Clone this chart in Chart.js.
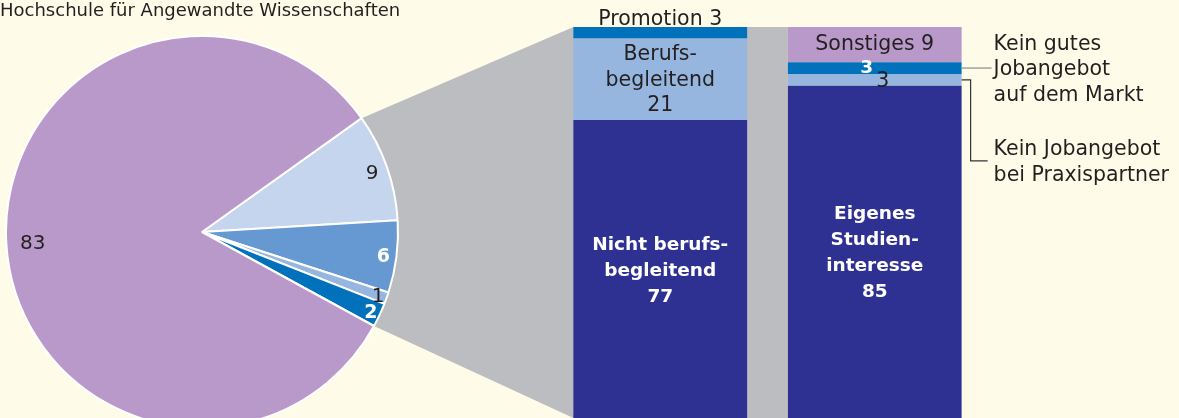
<!DOCTYPE html>
<html>
<head>
<meta charset="utf-8">
<script src="https://cdn.jsdelivr.net/npm/chart.js@4.4.1/dist/chart.umd.min.js"></script>
<style>
  body { margin: 0; background: #fefce8; overflow: hidden; }
  #wrap { position: relative; width: 1179px; height: 418px; }
  #wrap canvas { position: absolute; left: 0; top: 0; }
</style>
</head>
<body>
<div id="wrap">
  <canvas id="barChart" width="1179" height="418"></canvas>
  <canvas id="pieChart" width="1179" height="418"></canvas>
</div>
<script>
// Pie: Hochschule für Angewandte Wissenschaften
const pieTitle = 'Hochschule für Angewandte Wissenschaften';
const pieLabels = ['Segment 9', 'Segment 6', 'Segment 1', 'Segment 2', 'Segment 83'];
const pieValues = [9, 6, 1, 2, 83];
const pieColors = ['#c5d5ed', '#6699d1', '#96b6e0', '#0071ba', '#b999c9'];

// Bars: two 100% stacks
const barCategories = ['Studienart', 'Gründe'];
const studyLabels = ['Nicht berufsbegleitend', 'Berufsbegleitend', 'Promotion'];
const studyValues = [77, 21, 3];
const studyColors = ['#2e3192', '#96b6e0', '#0071ba'];
const studyText = [['Nicht berufs-', 'begleitend'], ['Berufs-', 'begleitend'], ['Promotion']];

const reasonLabels = ['Eigenes Studieninteresse', 'Kein Jobangebot bei Praxispartner', 'Kein gutes Jobangebot auf dem Markt', 'Sonstiges'];
const reasonValues = [85, 3, 3, 9];
const reasonColors = ['#2e3192', '#96b6e0', '#0071ba', '#b999c9'];
const reasonText = [['Eigenes', 'Studien-', 'interesse'], ['Kein Jobangebot', 'bei Praxispartner'], ['Kein gutes', 'Jobangebot', 'auf dem Markt'], ['Sonstiges']];

const DARK = '#231f20';
const FAMILY = '"DejaVu Sans", sans-serif';

// label styling (placement only)
const pieLabelRadius = [0.92, 0.933, 0.954, 0.952, 0.865];
const pieLabelBold = [false, true, false, true, false];
const studyStyle = [
    { mode: 'stack', bold: true, color: '#fff' },
    { mode: 'stack', bold: false, color: DARK, dy: -1 },
    { mode: 'above', bold: false, color: DARK }
];
const reasonStyle = [
    { mode: 'stack', bold: true, color: '#fff' },
    { mode: 'side', bold: false, color: DARK, dx: 8, line: '#333333', drop: 81 },
    { mode: 'side', bold: true, color: '#fff', dx: -8, dy: -2, line: '#8a8a8a', drop: 0 },
    { mode: 'inline', bold: false, color: DARK, dy: -2 }
];

function fontOf(bold) {
    return bold ? { str: 'bold 18.5px ' + FAMILY, size: 18.5, lh: 26 } : { str: '20.5px ' + FAMILY, size: 20.5, lh: 25.5 };
}

// draw lines centred vertically on cy
function drawLines(ctx, lines, x, cy, f, align) {
    ctx.font = f.str;
    ctx.textAlign = align || 'center';
    ctx.textBaseline = 'alphabetic';
    const n = lines.length;
    lines.forEach((t, i) => {
        ctx.fillText(t, x, cy + (i - (n - 1) / 2) * f.lh + f.size * 0.36);
    });
}

// Pie labels
const pieLabelPlugin = {
    id: 'pieLabels',
    afterDatasetsDraw(chart) {
        const ctx = chart.ctx;
        const meta = chart.getDatasetMeta(0);
        ctx.save();
        meta.data.forEach((arc, i) => {
            const p = arc.getProps(['x', 'y', 'startAngle', 'endAngle', 'outerRadius'], true);
            const mid = (p.startAngle + p.endAngle) / 2;
            const r = p.outerRadius * pieLabelRadius[i];
            const bold = pieLabelBold[i];
            ctx.fillStyle = bold ? '#fff' : DARK;
            const f = bold ? { str: 'bold 19px ' + FAMILY, size: 19, lh: 20 } : { str: '20px ' + FAMILY, size: 20, lh: 20 };
            drawLines(ctx, [String(pieValues[i])], p.x + Math.cos(mid) * r, p.y + Math.sin(mid) * r, f);
        });
        ctx.restore();
    }
};

const pieChart = new Chart(document.getElementById('pieChart'), {
    type: 'pie',
    data: {
        labels: pieLabels,
        datasets: [{
            data: pieValues,
            backgroundColor: pieColors,
            borderColor: '#ffffff',
            borderWidth: 2,
            clip: false
        }]
    },
    options: {
        responsive: false,
        animation: false,
        rotation: 54.5,
        radius: 196,
        layout: { padding: { left: 0, right: 775, top: 0, bottom: 0 } },
        plugins: {
            legend: { display: false },
            tooltip: { enabled: false },
            title: {
                display: true,
                text: pieTitle,
                align: 'start',
                color: DARK,
                font: { family: FAMILY, size: 18, weight: 'normal', lineHeight: 1.2 },
                padding: { top: 1, bottom: 23.4 }
            }
        }
    },
    plugins: [pieLabelPlugin]
});

// grey connector from pie slices to the bars
const connectorPlugin = {
    id: 'connector',
    beforeDatasetsDraw(chart) {
        const arcs = pieChart.getDatasetMeta(0).data;
        const a0 = arcs[0].getProps(['x', 'y', 'startAngle', 'outerRadius'], true);
        const a3 = arcs[3].getProps(['x', 'y', 'endAngle', 'outerRadius'], true);
        const topBar1 = chart.getDatasetMeta(studyValues.length - 1).data[0].getProps(['x', 'y', 'width'], true);
        const bar2 = chart.getDatasetMeta(studyValues.length).data[1].getProps(['x', 'width'], true);
        const bottom = chart.chartArea.bottom;
        const left1 = topBar1.x - topBar1.width / 2;
        const left2 = bar2.x - bar2.width / 2;
        const ctx = chart.ctx;
        ctx.save();
        ctx.fillStyle = '#bcbdc0';
        ctx.beginPath();
        ctx.moveTo(a0.x + Math.cos(a0.startAngle) * a0.outerRadius, a0.y + Math.sin(a0.startAngle) * a0.outerRadius);
        ctx.lineTo(left1, topBar1.y);
        ctx.lineTo(left2, topBar1.y);
        ctx.lineTo(left2, bottom);
        ctx.lineTo(left1, bottom);
        ctx.lineTo(a3.x + Math.cos(a3.endAngle) * a3.outerRadius, a3.y + Math.sin(a3.endAngle) * a3.outerRadius);
        ctx.closePath();
        ctx.fill();
        ctx.restore();
    }
};

// segment labels and annotations
const barLabelPlugin = {
    id: 'barLabels',
    afterDatasetsDraw(chart) {
        const ctx = chart.ctx;
        ctx.save();
        chart.data.datasets.forEach((ds, di) => {
            const el = chart.getDatasetMeta(di).data[ds.catIndex];
            const p = el.getProps(['x', 'y', 'base', 'width'], true);
            const st = ds.textStyle;
            const f = fontOf(st.bold);
            const cy = (p.y + p.base) / 2 + (st.dy || 0);
            const value = String(ds.data[ds.catIndex]);
            ctx.fillStyle = st.color;
            if (st.mode === 'stack') {
                drawLines(ctx, ds.textLines.concat([value]), p.x, cy, f);
            } else if (st.mode === 'inline') {
                drawLines(ctx, [ds.textLines[0] + ' ' + value], p.x, cy, f);
            } else if (st.mode === 'above') {
                ctx.font = f.str;
                ctx.textAlign = 'center';
                ctx.fillText(ds.textLines[0] + ' ' + value, p.x, p.y - 2);
            } else if (st.mode === 'side') {
                drawLines(ctx, [value], p.x + st.dx, cy, f);
                const right = p.x + p.width / 2;
                const ly = (p.y + p.base) / 2;
                ctx.strokeStyle = st.line;
                ctx.lineWidth = 1.2;
                ctx.beginPath();
                ctx.moveTo(right, ly);
                if (st.drop) {
                    ctx.lineTo(right + 9, ly);
                    ctx.lineTo(right + 9, ly + st.drop);
                    ctx.lineTo(right + 26, ly + st.drop);
                } else {
                    ctx.lineTo(right + 30, ly);
                }
                ctx.stroke();
                ctx.fillStyle = DARK;
                drawLines(ctx, ds.textLines, right + 32, ly + st.drop, fontOf(false), 'left');
            }
        });
        ctx.restore();
    }
};

const barDatasets = [];
studyValues.forEach((v, i) => {
    barDatasets.push({
        label: studyLabels[i],
        data: [v, null],
        backgroundColor: studyColors[i],
        yAxisID: 'y',
        catIndex: 0,
        textLines: studyText[i],
        textStyle: studyStyle[i]
    });
});
reasonValues.forEach((v, i) => {
    barDatasets.push({
        label: reasonLabels[i],
        data: [null, v],
        backgroundColor: reasonColors[i],
        yAxisID: 'y2',
        catIndex: 1,
        textLines: reasonText[i],
        textStyle: reasonStyle[i]
    });
});

const barChart = new Chart(document.getElementById('barChart'), {
    type: 'bar',
    data: { labels: barCategories, datasets: barDatasets },
    options: {
        responsive: false,
        animation: false,
        layout: { padding: { left: 553, right: 197, top: 27, bottom: 0 } },
        datasets: { bar: { barPercentage: 0.81, categoryPercentage: 1, borderWidth: 0 } },
        plugins: { legend: { display: false }, tooltip: { enabled: false } },
        scales: {
            x: { display: false, stacked: true },
            y: { display: false, stacked: true, min: 0, max: 101 },
            y2: { display: false, stacked: true, min: 0, max: 100, position: 'right' }
        }
    },
    plugins: [connectorPlugin, barLabelPlugin]
});
</script>
</body>
</html>
